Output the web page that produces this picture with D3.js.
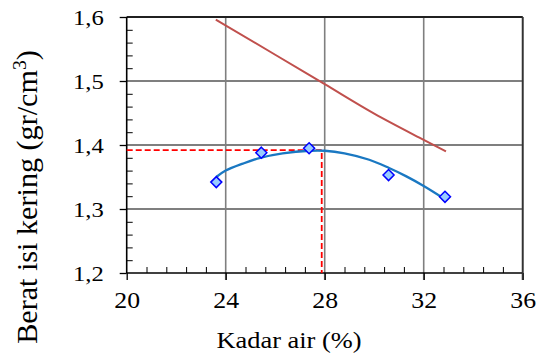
<!DOCTYPE html>
<html>
<head>
<meta charset="utf-8">
<script src="https://cdn.jsdelivr.net/npm/d3@7"></script>
<style>
  html, body { margin: 0; padding: 0; background: #fff; }
</style>
</head>
<body>
<svg id="chart" width="544" height="355"></svg>
<script>
// Compaction test: moisture content (%) vs dry density (gr/cm3)
const xTicks = [20, 24, 28, 32, 36];
const yTicks = [1.2, 1.3, 1.4, 1.5, 1.6];
const yTickLabels = ["1,2", "1,3", "1,4", "1,5", "1,6"];

// Measured points
const testMoisture = [23.62, 25.44, 27.37, 30.58, 32.86];
const testDensity  = [1.342, 1.388, 1.395, 1.353, 1.319];

// Polynomial trend line through the measured points
const trendMoisture = [23.62, 24.0, 24.7, 25.4, 26.3, 27.4, 28.0, 28.8, 29.8, 30.6, 31.3, 32.0, 32.75];
const trendDensity  = [1.350, 1.360, 1.371, 1.380, 1.387, 1.391, 1.391, 1.387, 1.377, 1.364, 1.351, 1.336, 1.318];

// Zero-air-voids line
const zavMoisture = [23.6, 26.0, 28.0, 30.0, 32.0, 32.9];
const zavDensity  = [1.596, 1.541, 1.495, 1.449, 1.408, 1.390];

// Optimum moisture content and maximum dry density
const optimumMoisture = [27.88];
const maxDryDensity = [1.392];

const FONT = "Liberation Serif";
const svg = d3.select("#chart");
const m = { left: 126.7, right: 522.7, top: 17, bottom: 273 };

const x = d3.scaleLinear().domain([20, 36]).range([m.left, m.right]);
const y = d3.scaleLinear().domain([1.2, 1.6]).range([m.bottom, m.top]);

// Horizontal grid lines (black)
svg.append("g").selectAll("line")
  .data(yTicks.slice(1))
  .join("line")
  .attr("x1", m.left).attr("x2", m.right)
  .attr("y1", d => y(d)).attr("y2", d => y(d))
  .attr("stroke", "#000").attr("stroke-width", 1.2);

// Vertical grid lines (grey), extending below the axis as major ticks
svg.append("g").selectAll("line")
  .data(xTicks.slice(1))
  .join("line")
  .attr("x1", d => x(d)).attr("x2", d => x(d))
  .attr("y1", m.top).attr("y2", m.bottom + 7)
  .attr("stroke", "#7f7f7f").attr("stroke-width", 1.6);

// Minor ticks
const xMinor = d3.range(20, 36.01, 0.8).filter(v => Math.abs(v / 4 - Math.round(v / 4)) > 1e-6);
const yMinor = d3.range(1.2, 1.6001, 0.02).filter(v => Math.abs(v * 10 - Math.round(v * 10)) > 1e-6);

svg.append("g")
  .attr("transform", `translate(0,${m.bottom})`)
  .call(d3.axisBottom(x).tickValues(xMinor).tickSize(-6).tickFormat(""))
  .call(g => g.select(".domain").remove())
  .selectAll("line").attr("stroke", "#000").attr("stroke-width", 1);

svg.append("g")
  .attr("transform", `translate(${m.left},0)`)
  .call(d3.axisLeft(y).tickValues(yMinor).tickSize(-6).tickFormat(""))
  .call(g => g.select(".domain").remove())
  .selectAll("line").attr("stroke", "#000").attr("stroke-width", 1);

// Slight horizontal stretch of the serif glyphs
function widen(sel, k) {
  sel.each(function () {
    const w = this.getComputedTextLength();
    d3.select(this).attr("textLength", w * k).attr("lengthAdjust", "spacingAndGlyphs");
  });
}

// Y axis with major ticks and labels
const yAxis = svg.append("g")
  .attr("transform", `translate(${m.left},0)`)
  .call(d3.axisLeft(y).tickValues(yTicks).tickSize(7).tickPadding(16)
    .tickFormat((d, i) => yTickLabels[i]));
yAxis.attr("font-family", FONT);
yAxis.select(".domain").attr("stroke", "#000").attr("stroke-width", 1.6).attr("d", `M0,${m.top}V${m.bottom}`);
yAxis.selectAll(".tick line").attr("stroke", "#000").attr("stroke-width", 1.3);
yAxis.selectAll("text").style("font-family", FONT).style("font-size", "22px")
  .attr("fill", "#000").attr("dy", "0.36em");
widen(yAxis.selectAll("text"), 1.12);

// X axis with major ticks and labels
const xAxis = svg.append("g")
  .attr("transform", `translate(0,${m.bottom})`)
  .call(d3.axisBottom(x).tickValues(xTicks).tickSize(7).tickPadding(12).tickFormat(d3.format("d")));
xAxis.attr("font-family", FONT);
xAxis.select(".domain").attr("stroke", "#000").attr("stroke-width", 1.6).attr("d", `M${m.left},0H${m.right}`);
xAxis.selectAll(".tick line").attr("stroke", "#000").attr("stroke-width", 1.3);
xAxis.selectAll("text").style("font-family", FONT).style("font-size", "23px").attr("fill", "#000");
widen(xAxis.selectAll("text"), 1.12);

// Top and right frame
svg.append("line").attr("x1", m.left).attr("x2", m.right).attr("y1", m.top).attr("y2", m.top)
  .attr("stroke", "#000").attr("stroke-width", 1.6);
svg.append("line").attr("x1", m.right).attr("x2", m.right).attr("y1", m.top).attr("y2", m.bottom + 7)
  .attr("stroke", "#333").attr("stroke-width", 1.8);

// Zero-air-voids line
svg.append("path")
  .datum(d3.zip(zavMoisture, zavDensity))
  .attr("fill", "none").attr("stroke", "#c0504d").attr("stroke-width", 2)
  .attr("d", d3.line().x(d => x(d[0])).y(d => y(d[1])).curve(d3.curveMonotoneX));

// Optimum guide lines
const optX = x(optimumMoisture[0]), optY = y(maxDryDensity[0]);
svg.append("path")
  .attr("d", `M${m.left},${optY}H${optX}V${m.bottom}`)
  .attr("fill", "none").attr("stroke", "#ff0000").attr("stroke-width", 1.8)
  .attr("stroke-dasharray", "6,3");

// Trend line
svg.append("path")
  .datum(d3.zip(trendMoisture, trendDensity))
  .attr("fill", "none").attr("stroke", "#1a78c2").attr("stroke-width", 2.3)
  .attr("d", d3.line().x(d => x(d[0])).y(d => y(d[1])).curve(d3.curveCatmullRom));

// Measured points (diamonds)
const r = 5.5;
svg.append("g").selectAll("path")
  .data(d3.zip(testMoisture, testDensity))
  .join("path")
  .attr("d", d => { const cx = x(d[0]), cy = y(d[1]); return `M${cx},${cy - r}L${cx + r},${cy}L${cx},${cy + r}L${cx - r},${cy}Z`; })
  .attr("fill", "#99ccff").attr("stroke", "#0000ff").attr("stroke-width", 1.5);

// Axis titles
svg.append("text")
  .attr("transform", "translate(289,348) scale(1.1,1)")
  .attr("text-anchor", "middle").attr("fill", "#000")
  .style("font-family", FONT).style("font-size", "24px")
  .text("Kadar air (%)");

const yt = svg.append("text")
  .attr("transform", "translate(37,197) rotate(-90) scale(1.04,1)")
  .attr("text-anchor", "middle").attr("fill", "#000")
  .style("font-family", FONT).style("font-size", "29px");
yt.append("tspan").text("Berat isi kering (gr/cm");
yt.append("tspan").style("font-size", "19px").attr("dy", -11).text("3");
yt.append("tspan").attr("dy", 11).text(")");
</script>
</body>
</html>
